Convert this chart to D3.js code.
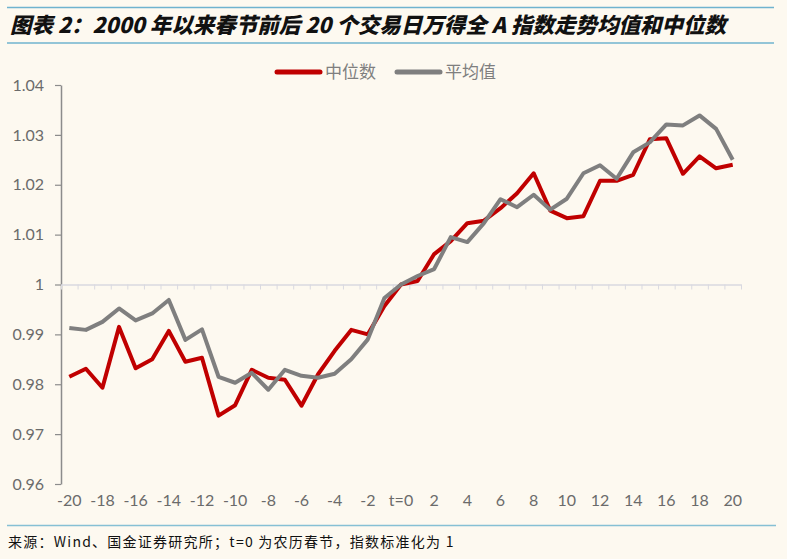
<!DOCTYPE html>
<html><head><meta charset="utf-8">
<script src="https://cdn.jsdelivr.net/npm/d3@7"></script>
<style>
html,body{margin:0;padding:0;background:#fdf9f0;}
svg{display:block;}
</style></head>
<body>
<svg id="c" width="787" height="559"></svg>
<script>
const days = d3.range(-20, 21);
const medianVals = [0.9815,0.9831,0.9793,0.9915,0.9832,0.9850,0.9907,0.9845,0.9853,0.9737,0.9758,
  0.9829,0.9813,0.9809,0.9757,0.9820,0.9867,0.9909,0.9900,0.9957,1.0000,
  1.0007,1.0061,1.0087,1.0123,1.0128,1.0153,1.0183,1.0223,1.0148,1.0133,
  1.0137,1.0208,1.0208,1.0220,1.0291,1.0293,1.0222,1.0257,1.0233,1.0240];
const meanVals = [0.9913,0.9909,0.9925,0.9952,0.9928,0.9942,0.9969,0.9889,0.9910,0.9815,0.9803,
  0.9823,0.9789,0.9829,0.9817,0.9813,0.9821,0.9850,0.9890,0.9973,1.0000,
  1.0017,1.0031,1.0095,1.0085,1.0123,1.0171,1.0155,1.0180,1.0150,1.0172,
  1.0223,1.0239,1.0212,1.0265,1.0285,1.0321,1.0319,1.0339,1.0312,1.0250];
const yTicks = [0.96,0.97,0.98,0.99,1,1.01,1.02,1.03,1.04];
const xTickDays = [-20,-18,-16,-14,-12,-10,-8,-6,-4,-2,0,2,4,6,8,10,12,14,16,18,20];
const seriesNames = ["中位数","平均值"];
const seriesColors = ["#c00000","#7f7f7f"];
const titleText = "图表 2：2000 年以来春节前后 20 个交易日万得全 A 指数走势均值和中位数";
const sourceText = "来源：Wind、国金证券研究所；t=0 为农历春节，指数标准化为 1";

const svg = d3.select("#c");
const W = 787, H = 559;
svg.append("rect").attr("width",W).attr("height",H).attr("fill","#fdf9f0");

// title
svg.append("line").attr("x1",7).attr("x2",774).attr("y1",7.5).attr("y2",7.5).attr("stroke","#6fb3cf").attr("stroke-width",1.5);
svg.append("line").attr("x1",7).attr("x2",774).attr("y1",43).attr("y2",43).attr("stroke","#6fb3cf").attr("stroke-width",1.5);
svg.append("text").attr("x",10).attr("y",32.5).text(titleText)
  .attr("font-family","'Noto Sans CJK SC'").attr("font-weight",900).attr("font-style","italic")
  .attr("font-size",21.5).attr("fill","#111");

// scales
const x = d3.scaleBand().domain(days).range([61,741]).padding(0);
const xc = d => x(d) + x.bandwidth()/2;
const xLin = d3.scaleLinear().domain([-20.5,20.5]).range([61,741]);
const y = d3.scaleLinear().domain([0.96,1.04]).range([484,85]);

const font = "Lato, 'Open Sans', sans-serif";
const labelColor = "#6b6b6b";

// y axis
const ya = svg.append("g").attr("transform","translate(61,0)")
  .call(d3.axisLeft(y).tickValues(yTicks).tickSize(6).tickSizeOuter(0).tickFormat(d=>d3.format("")(+d.toFixed(2))));
ya.select(".domain").attr("stroke","#8c8c8c").attr("stroke-width",1.5);
ya.selectAll(".tick line").attr("stroke","#8c8c8c").attr("stroke-width",1.2);
ya.selectAll(".tick text").attr("font-family",font).attr("font-size",16).attr("fill",labelColor).attr("x",-17);

// x axis line at y=1
const boundaries = d3.range(-20.5, 21, 1);
const xa = svg.append("g").attr("transform",`translate(0,${y(1)})`)
  .call(d3.axisBottom(xLin).tickValues(boundaries).tickSize(5).tickSizeOuter(0).tickFormat(""));
xa.select(".domain").attr("stroke","#d9d9e0").attr("stroke-width",1.5);
xa.selectAll(".tick line").attr("stroke","#d9d9e0").attr("stroke-width",1);

// x labels
const xl = svg.append("g").attr("transform","translate(0,500)")
  .call(d3.axisBottom(x).tickValues(xTickDays).tickSize(0).tickFormat(d => d===0 ? "t=0" : String(d)));
xl.select(".domain").remove();
xl.selectAll(".tick text").attr("font-family",font).attr("font-size",16).attr("fill",labelColor).attr("dy","0.2em");

// lines
const line = d3.line().x((d,i)=>xc(days[i])).y(d=>y(d));
[medianVals, meanVals].forEach((vals,k)=>{
  svg.append("path").datum(vals).attr("d",line).attr("fill","none")
    .attr("stroke",seriesColors[k]).attr("stroke-width",4).attr("stroke-linejoin","round");
});

// legend
const legendX = [277, 397];
seriesNames.forEach((n,k)=>{
  svg.append("line").attr("x1",legendX[k]).attr("x2",legendX[k]+43).attr("y1",72).attr("y2",72)
    .attr("stroke",seriesColors[k]).attr("stroke-width",5).attr("stroke-linecap","round");
  svg.append("text").attr("x",legendX[k]+48).attr("y",72).attr("dy","0.35em").text(n)
    .attr("font-family","'Noto Sans CJK SC'").attr("font-size",17).attr("fill","#7f7f7f");
});

// footer
svg.append("line").attr("x1",7).attr("x2",776).attr("y1",525.5).attr("y2",525.5).attr("stroke","#86c0d4").attr("stroke-width",1.5);
svg.append("text").attr("x",8).attr("y",547).text(sourceText)
  .attr("font-family","'Noto Sans CJK SC'").attr("font-size",14).attr("letter-spacing",1.25).attr("fill","#111");
</script>
</body></html>
